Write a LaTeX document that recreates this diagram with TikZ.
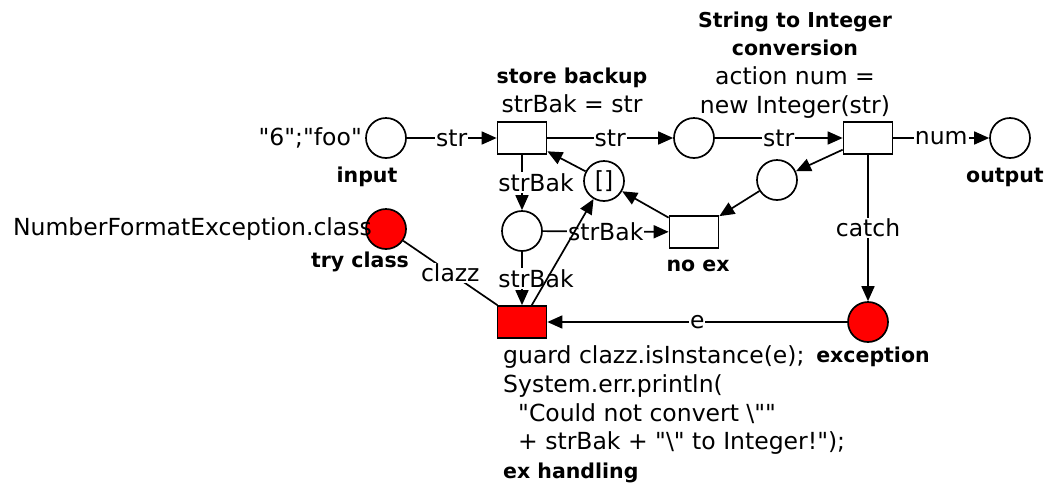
\documentclass[tikz,border=0pt]{standalone}
\usepackage{fontspec}
\setmainfont{DejaVu Sans}[Ligatures=TeXOff]
\usetikzlibrary{arrows.meta}
\begin{document}
\begin{tikzpicture}[x=1pt,y=-1pt,
  font=\fontsize{23.5}{28.7}\selectfont,
  place/.style={circle,draw,line width=1.7pt,minimum size=40pt,inner sep=0pt,fill=white},
  redplace/.style={place,fill=red},
  trans/.style={rectangle,draw,line width=1.7pt,minimum width=49pt,minimum height=32pt,inner sep=0pt,fill=white},
  redtrans/.style={trans,fill=red},
  arc/.style={line width=1.7pt,-{Triangle[length=15pt,width=13pt]}},
  plainarc/.style={line width=1.7pt},
  lab/.style={fill=white,inner sep=1pt},
  pname/.style={inner sep=0pt,font=\fontsize{20.5}{28.7}\selectfont\bfseries},
  txt/.style={inner sep=0pt}
]
\useasboundingbox (0,0) rectangle (1049,488);

% places
\node[place] (input) at (386,138) {};
\node[place] (p2) at (694,138) {};
\node[place] (output) at (1010,138) {};
\node[place] (p3) at (777,180) {};
\node[place] (bak) at (604,181) {[]};
\node[place] (p4) at (522,231) {};
\node[redplace] (try) at (386,229) {};
\node[redplace] (exc) at (868,322) {};

% transitions
\node[trans] (store) at (522,138) {};
\node[trans] (conv) at (868,138) {};
\node[trans] (noex) at (694,232) {};
\node[redtrans] (exh) at (522,322) {};

% texts
\node[txt,anchor=east] (init) at (362,138) {"6";"foo"};
\node[pname] (ninput) at (367,177) {input};
\node[pname] (noutput) at (1005,177) {output};
\node[txt,anchor=east] (nfe) at (372,229) {NumberFormatException.class};
\node[pname] (ntry) at (360,262) {try class};
\node[pname] (nexc) at (873,357) {exception};
\node[pname] (nnoex) at (698,266) {no ex};
\node[txt,align=center] (tstore) at (572,90.5) {{\fontsize{20.5}{28.7}\selectfont\bfseries store backup}\\strBak = str};
\node[txt,align=center] (tconv) at (795,65) {{\fontsize{20.5}{28.7}\selectfont\bfseries String to Integer}\\{\fontsize{20.5}{28.7}\selectfont\bfseries conversion}\\action num =\\new Integer(str)};
\node[txt,align=left,anchor=west] (texh) at (503,414.5) {guard clazz.isInstance(e);\\System.err.println(\\\hspace*{15pt}"Could not convert \textbackslash""\\\hspace*{15pt}+ strBak + "\textbackslash" to Integer!");\\{\fontsize{20.5}{28.7}\selectfont\bfseries ex handling}};

% arcs
\draw[arc] (input) -- node[lab]{str} (store);
\draw[arc] (store) -- node[lab]{str} (p2);
\draw[arc] (p2) -- node[lab]{str} (conv);
\draw[arc] (conv) -- node[lab]{num} (output);
\draw[arc] (conv) -- (p3);
\draw[arc] (p3) -- (noex);
\draw[arc] (noex) -- (bak);
\draw[arc] (bak) -- (store);
\draw[arc] (store) -- node[lab,xshift=14pt]{strBak} (p4);
\draw[arc] (p4) -- node[lab]{strBak} (noex);
\draw[arc] (p4) -- node[lab,xshift=14pt]{strBak} (exh);
\draw[arc] (exh) -- (bak);
\draw[plainarc] (try) -- node[lab]{clazz} (exh);
\draw[arc] (conv) -- node[lab]{catch} (exc);
\draw[arc] (exc) -- node[lab]{e} (exh);
\end{tikzpicture}
\end{document}
